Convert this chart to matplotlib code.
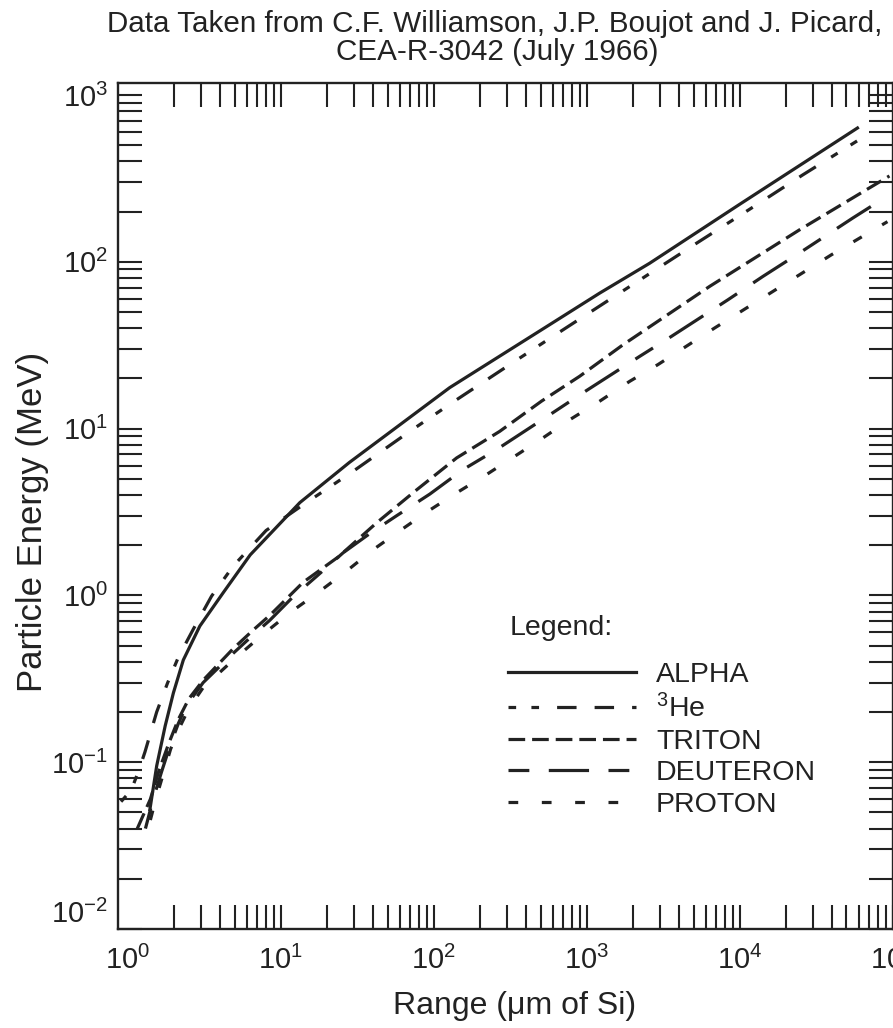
import math

import matplotlib
matplotlib.use("Agg")
import matplotlib.pyplot as plt
from matplotlib.ticker import FixedLocator, FuncFormatter, NullFormatter

# range (um of Si) / particle energy (MeV)
alpha_range = [1.39, 1.54, 1.75, 1.98, 2.3, 2.95, 4.2, 6.3, 13.3, 28, 127, 573, 1216, 2580, 10000, 59000]
alpha_energy = [0.052, 0.095, 0.165, 0.26, 0.41, 0.655, 1.04, 1.75, 3.6, 6.26, 17.6, 42, 64.9, 98, 221, 634]

he3_range = [0.9, 1.05, 1.18, 1.29, 1.54, 1.81, 2.13, 2.67, 3.52, 4.88, 8, 13.7, 29.7, 69.7, 141, 338, 700,
             1644, 5212, 12850, 25900, 66600]
he3_energy = [0.058, 0.068, 0.09, 0.115, 0.2, 0.297, 0.424, 0.626, 0.99, 1.5, 2.45, 3.45, 5.55, 9.63, 14.9,
              25.3, 39.1, 65, 129, 219, 332, 570]

triton_range = [1.15, 1.4, 1.6, 1.85, 2.13, 2.5, 3.1, 4.88, 6.59, 8.47, 14.0, 23.7, 42.2, 75.2, 141, 270, 506,
                900, 1727, 6368, 24660, 67300, 95500]
triton_energy = [0.04, 0.06, 0.09, 0.13, 0.18, 0.24, 0.31, 0.48, 0.62, 0.76, 1.2, 1.7, 2.72, 4.21, 6.67, 9.63,
                 14.6, 20.6, 31.8, 71.2, 155.5, 270, 327]

deuteron_range = [1.3, 1.46, 1.66, 1.88, 2.13, 2.42, 3.1, 4.88, 6.59, 8.47, 12.0, 17.1, 25.5, 38.2, 57, 94.2,
                  155.5, 257, 573, 946, 2220, 3580, 8390, 14200, 24660, 55000, 74300]
deuteron_energy = [0.04, 0.06, 0.088, 0.125, 0.17, 0.22, 0.3, 0.45, 0.58, 0.71, 0.98, 1.3, 1.8, 2.35, 3.0,
                   4.05, 5.68, 7.48, 12.1, 16.4, 27.1, 35.7, 59.2, 81.7, 113, 183, 218]

proton_range = [1.4, 1.52, 1.7, 1.9, 2.2, 2.5, 3.1, 4.88, 6.59, 8.47, 11.5, 17.5, 26.9, 40.1, 61.5, 91.8, 141,
                221, 338, 518, 774, 1216, 1910, 2925, 6866, 16500, 39750, 92700]
proton_energy = [0.045, 0.06, 0.085, 0.12, 0.165, 0.21, 0.28, 0.41, 0.52, 0.63, 0.79, 1.04, 1.40, 1.88, 2.48,
                 3.2, 4.12, 5.3, 6.82, 8.8, 11.3, 14.6, 19.2, 24.2, 40.1, 66.4, 110, 174]

labels = ["ALPHA", "$^{3}$He", "TRITON", "DEUTERON", "PROTON"]

INK = "#222222"
W, H = 893, 1028

plt.rcParams["font.family"] = ["Liberation Sans", "DejaVu Sans"]
plt.rcParams["mathtext.fontset"] = "custom"
plt.rcParams["mathtext.rm"] = "Liberation Sans"
plt.rcParams["mathtext.it"] = "Liberation Sans:italic"
plt.rcParams["mathtext.bf"] = "Liberation Sans:bold"
plt.rcParams["lines.scale_dashes"] = False
plt.rcParams["text.color"] = INK

fig = plt.figure(figsize=(W / 100, H / 100), dpi=100)
ax = fig.add_axes([118 / W, 1 - 929 / H, (892.5 - 118) / W, (929 - 83) / H])

lw = 2.3
styles = [
    dict(ls="-"),
    dict(ls=(0, [5.5, 11, 5.5, 13, 14, 13, 14, 13])),
    dict(ls=(0, [12, 5])),
    dict(ls=(0, [15, 14, 29, 14])),
    dict(ls=(0, [7, 17])),
]
series = [
    (alpha_range, alpha_energy),
    (he3_range, he3_energy),
    (triton_range, triton_energy),
    (deuteron_range, deuteron_energy),
    (proton_range, proton_energy),
]
handles = []
for (r, e), st, lab in zip(series, styles, labels):
    h, = ax.plot(r, e, color=INK, lw=lw, label=lab, **st)
    handles.append(h)

ax.set_xscale("log")
ax.set_yscale("log")
ax.set_xlim(0.86, 1.0e5)
ax.set_ylim(0.01, 1180)

# decade labels only on x; every tick (incl. decades past 10^0) drawn as minor
ax.xaxis.set_major_locator(FixedLocator([10.0 ** n for n in range(0, 6)]))
ax.xaxis.set_minor_locator(FixedLocator([k * 10.0 ** n for n in range(0, 5) for k in range(2, 11)]))
ax.xaxis.remove_overlapping_locs = False
ax.yaxis.set_major_locator(FixedLocator([10.0 ** n for n in range(-2, 4)]))
ax.yaxis.set_minor_locator(FixedLocator([k * 10.0 ** n for n in range(-2, 3) for k in range(2, 10)]))
fmt = FuncFormatter(lambda v, p: r"$\mathregular{10^{%d}}$" % round(math.log10(v)))
ax.xaxis.set_major_formatter(fmt)
ax.yaxis.set_major_formatter(fmt)
ax.xaxis.set_minor_formatter(NullFormatter())
ax.yaxis.set_minor_formatter(NullFormatter())

ax.tick_params(which="both", direction="in", top=True, right=True, colors=INK,
               width=1.5, length=17.5, labelsize=21, labelcolor=INK)
ax.tick_params(axis="x", which="major", length=0, pad=12)
ax.tick_params(axis="y", which="major", pad=7)
for s in ax.spines.values():
    s.set_linewidth(1.7)
    s.set_color(INK)

# the scan prints the lowest decade label a little above the axis line
ax.yaxis.get_major_ticks()[0].label1.set_va("bottom")

fig.text(495 / W, 1 - 32 / H, "Data Taken from C.F. Williamson, J.P. Boujot and J. Picard,",
         ha="center", va="baseline", fontsize=21.3)
fig.text(497 / W, 1 - 60 / H, "CEA-R-3042 (July 1966)", ha="center", va="baseline", fontsize=21.3)
fig.text(33 / W, 506 / H, "Particle Energy (MeV)", rotation=90, ha="center", va="center", fontsize=25)
fig.text(515 / W, 1 - 1014 / H, "Range (μm of Si)", ha="center", va="baseline", fontsize=23)

fig.text(510 / W, 1 - 628 / H, "Legend:", ha="left", va="center", fontsize=20.5)
ax.legend(handles=handles, loc="upper left", bbox_to_anchor=(508 / W, 1 - 662 / H),
          bbox_transform=fig.transFigure, frameon=False, fontsize=20.5, handlelength=4.5,
          handletextpad=0.7, labelspacing=0.2, borderpad=0, borderaxespad=0)

fig.savefig("out.png", dpi=100)
